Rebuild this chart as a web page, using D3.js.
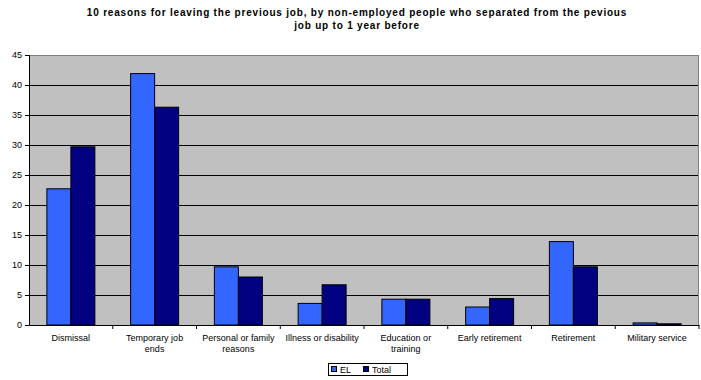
<!DOCTYPE html>
<html><head><meta charset="utf-8">
<script src="https://cdn.jsdelivr.net/npm/d3@7"></script>
<style>body{margin:0;background:#fff}svg{display:block;font-family:"Liberation Sans",Arial,sans-serif}</style>
</head><body><svg id="c" width="701" height="380"></svg>
<script>
const categories = [["Dismissal"],["Temporary job","ends"],["Personal or family","reasons"],["Illness or disability"],["Education or","training"],["Early retirement"],["Retirement"],["Military service"]];
const seriesNames = ["EL","Total"];
const elValues = [22.7, 41.9, 9.7, 3.6, 4.3, 3.0, 13.9, 0.35];
const totalValues = [29.7, 36.3, 8.0, 6.7, 4.3, 4.4, 9.7, 0.2];
const yTicks = [0,5,10,15,20,25,30,35,40,45];
const colors = ["#3366FF","#000080"];

const svg = d3.select("#c");
const L=29, R=699, T=55, B=325;
const x = d3.scaleBand().domain(d3.range(categories.length)).range([L,R]);
const y = d3.scaleLinear().domain([0,45]).range([B,T]);
const inner = d3.scaleBand().domain([0,1]).range([0, 48]);

svg.append("rect").attr("x",L).attr("y",T).attr("width",R-L).attr("height",B-T).attr("fill","#C0C0C0");
svg.append("g").selectAll("line").data(yTicks.filter(d=>d>0&&d<45)).join("line")
  .attr("x1",L).attr("x2",R).attr("y1",d=>y(d)).attr("y2",d=>y(d)).attr("stroke","#000").attr("stroke-width",1)
  .attr("shape-rendering","crispEdges");
svg.append("line").attr("x1",L).attr("x2",R).attr("y1",T+0.5).attr("y2",T+0.5).attr("stroke","#808080");
svg.append("line").attr("x1",R-0.5).attr("x2",R-0.5).attr("y1",T).attr("y2",B).attr("stroke","#808080");

const data = [elValues,totalValues];
const g = svg.append("g");
categories.forEach((c,i)=>{
  const x0 = x(i) + (x.bandwidth()-48)/2;
  data.forEach((vals,s)=>{
    g.append("rect").attr("x",x0+inner(s)).attr("y",y(vals[i])).attr("width",inner.bandwidth()).attr("height",B-y(vals[i]))
      .attr("fill",colors[s]).attr("stroke","#000").attr("stroke-width",1);
  });
});

const ya = d3.axisLeft(y).tickValues(yTicks).tickSize(4).tickPadding(3);
const yg = svg.append("g").attr("transform",`translate(${L},0)`).call(ya);
yg.select(".domain").attr("stroke","#000");
yg.selectAll("text").attr("font-size",9).attr("fill","#000").attr("font-family","Liberation Sans, Arial");

const xa = d3.axisBottom(x).tickValues([]).tickSizeOuter(0);
const xg = svg.append("g").attr("transform",`translate(0,${B})`).call(xa);
xg.select(".domain").attr("stroke","#000");
xg.selectAll(".sep").data(d3.range(1,categories.length+1)).join("line").attr("class","sep")
  .attr("x1",d=>x(d-1)+x.bandwidth()).attr("x2",d=>x(d-1)+x.bandwidth()).attr("y1",0).attr("y2",4).attr("stroke","#000");

const lab = svg.append("g").attr("font-size",9).attr("fill","#000").attr("text-anchor","middle");
categories.forEach((c,i)=>{
  const t = lab.append("text").attr("x",x(i)+x.bandwidth()/2).attr("y",341);
  c.forEach((line,k)=>t.append("tspan").attr("x",x(i)+x.bandwidth()/2).attr("dy",k?10.5:0).text(line));
});

const title = svg.append("text").attr("text-anchor","middle").attr("font-size",10).attr("font-weight","bold").attr("letter-spacing",0.8);
title.append("tspan").attr("x",357).attr("y",16).text("10 reasons for leaving the previous job, by non-employed people who separated from the pevious");
title.append("tspan").attr("x",357).attr("y",29).text("job up to 1  year before");

const lg = svg.append("g");
lg.append("rect").attr("x",328.5).attr("y",363.5).attr("width",79).attr("height",12).attr("fill","#fff").attr("stroke","#000");
const items=[{n:seriesNames[0],x:331},{n:seriesNames[1],x:363}];
items.forEach((it,s)=>{
  lg.append("rect").attr("x",it.x+0.5).attr("y",366.5).attr("width",5).attr("height",5).attr("fill",colors[s]).attr("stroke","#000");
  lg.append("text").attr("x",it.x+9).attr("y",373).attr("font-size",9).text(it.n);
});
</script></body></html>
